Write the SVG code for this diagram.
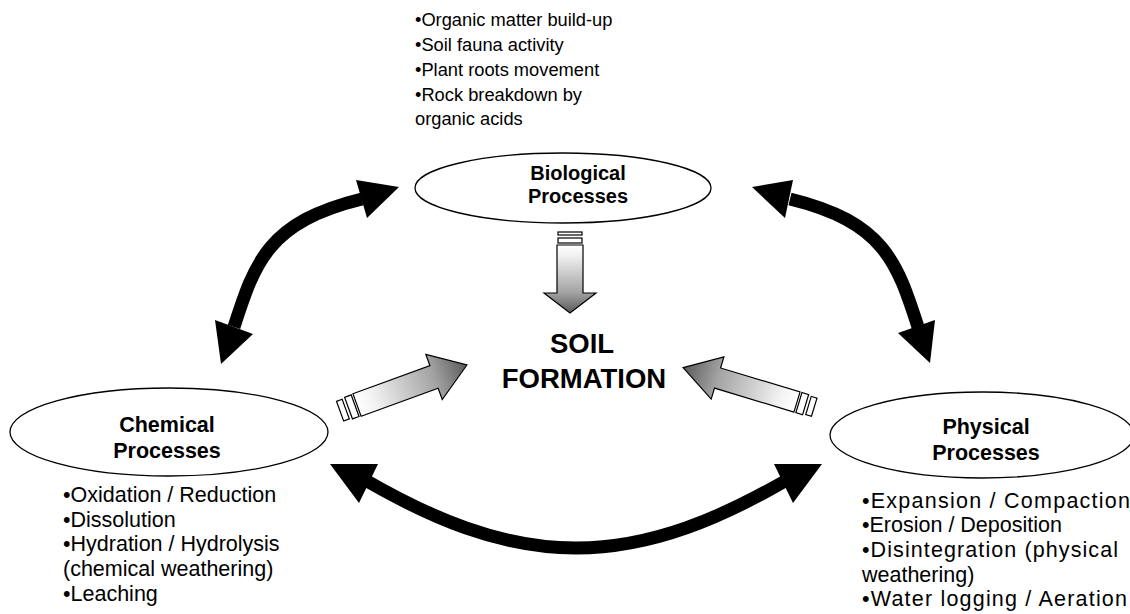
<svg xmlns="http://www.w3.org/2000/svg" width="1130" height="614" viewBox="0 0 1130 614">
  <style>
    .bg { fill: #ffffff; }
    .oval { fill: #ffffff; stroke: #000000; stroke-width: 1.3; }
    .label { font-family: "Liberation Sans", Arial, sans-serif; font-weight: bold; fill: #000000; text-anchor: middle; }
    .list { font-family: "Liberation Sans", Arial, sans-serif; fill: #000000; }
    .title { font-family: "Liberation Sans", Arial, sans-serif; font-weight: bold; font-size: 27.5px; fill: #000000; text-anchor: middle; }
    .link { fill: none; stroke: #000000; stroke-width: 13; }
    .head { fill: #000000; }
    .flow { fill: url(#flowGrad); stroke: #000000; stroke-width: 1.2; stroke-linejoin: miter; }
    .band { fill: #ffffff; stroke: #000000; stroke-width: 1.2; }
  </style>
  <defs>
    <!-- light at the tail, darkening toward the tip -->
    <linearGradient id="flowGrad" x1="0" y1="0" x2="1" y2="0">
      <stop offset="0" stop-color="#ffffff"/>
      <stop offset="0.15" stop-color="#f2f2f2"/>
      <stop offset="0.7" stop-color="#a2a2a2"/>
      <stop offset="1" stop-color="#5a5a5a"/>
    </linearGradient>
  </defs>

  <rect class="bg" x="0" y="0" width="1130" height="614"/>

  <!-- two-way links between the process groups -->
  <g id="connectors">
    <path class="link" d="M 234,327 C 255,262 268,222 362,199"/>
    <polygon class="head" points="356,180 399,187 367,218"/>
    <polygon class="head" points="215,320 253,334 221,364"/>

    <path class="link" d="M 790,199 C 884,222 897,262 918,327"/>
    <polygon class="head" points="793,180 752,187 785,218"/>
    <polygon class="head" points="935,320 898,333 930,363"/>

    <path class="link" d="M 360,477 C 430,518 500,548 576,548 C 652,548 722,518 792,477"/>
    <polygon class="head" points="330,464 378,464 359,503"/>
    <polygon class="head" points="774,464 822,464 793,503"/>

    <!-- shaded flow arrows into the centre -->
    <g id="flow-bio" transform="translate(570,245) rotate(90)">
      <rect class="band" x="-13" y="-12" width="3" height="24"/>
      <rect class="band" x="-7" y="-12" width="5" height="24"/>
      <polygon class="flow" points="0,-13 48,-13 48,-26 68,0 48,26 48,13 0,13"/>
    </g>
    <g id="flow-chem" transform="translate(357,405) rotate(-20)">
      <rect class="band" x="-18" y="-10.5" width="6" height="21"/>
      <rect class="band" x="-9" y="-11.5" width="7" height="23"/>
      <polygon class="flow" points="0,-12 82,-12 82,-24 117,0 82,24 82,12 0,12"/>
    </g>
    <g id="flow-phys" transform="translate(797,402) rotate(196.8)">
      <rect class="band" x="-18" y="-9.5" width="6" height="19"/>
      <rect class="band" x="-9" y="-10.5" width="7" height="21"/>
      <polygon class="flow" points="0,-10.5 83,-10.5 83,-22 119,0 83,22 83,10.5 0,10.5"/>
    </g>
  </g>

  <g id="biological">
    <ellipse class="oval" cx="563" cy="188" rx="148" ry="35"/>
    <text class="label" font-size="20" x="578" y="180">Biological</text>
    <text class="label" font-size="20" x="578" y="203">Processes</text>
  </g>

  <g id="biological-notes">
    <text class="list" font-size="18.3" x="415" y="26">•Organic matter build-up</text>
    <text class="list" font-size="18.3" x="415" y="50.5">•Soil fauna activity</text>
    <text class="list" font-size="18.3" x="415" y="75.5">•Plant roots movement</text>
    <text class="list" font-size="18.3" x="415" y="100.5">•Rock breakdown by</text>
    <text class="list" font-size="18.3" x="415" y="125">organic acids</text>
  </g>

  <g id="chemical">
    <ellipse class="oval" cx="169" cy="432" rx="159" ry="44"/>
    <text class="label" font-size="21.5" x="167" y="432">Chemical</text>
    <text class="label" font-size="21.5" x="167" y="458">Processes</text>
  </g>

  <g id="chemical-notes">
    <text class="list" font-size="21.5" x="63" y="502">•Oxidation / Reduction</text>
    <text class="list" font-size="21.5" x="63" y="527">•Dissolution</text>
    <text class="list" font-size="21.5" x="63" y="551">•Hydration / Hydrolysis</text>
    <text class="list" font-size="21.5" x="63" y="576">(chemical weathering)</text>
    <text class="list" font-size="21.5" x="63" y="601">•Leaching</text>
  </g>

  <g id="physical">
    <ellipse class="oval" cx="982" cy="435" rx="152" ry="43"/>
    <text class="label" font-size="21.5" x="986" y="434">Physical</text>
    <text class="label" font-size="21.5" x="986" y="460">Processes</text>
  </g>

  <g id="physical-notes">
    <text class="list" font-size="21.5" x="862" y="508" textLength="268" lengthAdjust="spacing">•Expansion / Compaction</text>
    <text class="list" font-size="21.5" x="862" y="532">•Erosion / Deposition</text>
    <text class="list" font-size="21.5" x="862" y="557" textLength="256" lengthAdjust="spacing">•Disintegration (physical</text>
    <text class="list" font-size="21.5" x="862" y="582">weathering)</text>
    <text class="list" font-size="21.5" x="862" y="606" textLength="265" lengthAdjust="spacing">•Water logging / Aeration</text>
  </g>

  <g id="soil-formation">
    <text class="title" x="582" y="353">SOIL</text>
    <text class="title" x="584" y="388">FORMATION</text>
  </g>
</svg>
